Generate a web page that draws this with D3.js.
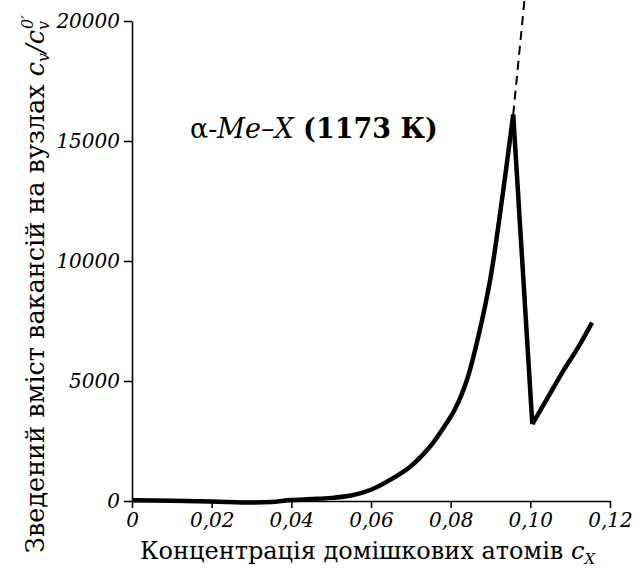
<!DOCTYPE html>
<html>
<head>
<meta charset="utf-8">
<script src="https://cdn.jsdelivr.net/npm/d3@7"></script>
<style>
  body { margin: 0; background: #fff; }
  svg { display: block; }
</style>
</head>
<body>
<div id="chart"></div>
<script>

// concentration of impurity atoms c_X
var cx = [0, 0.01, 0.02, 0.03, 0.035, 0.04, 0.045, 0.05, 0.055, 0.06, 0.065, 0.07,
          0.075, 0.078, 0.081, 0.084, 0.087, 0.09, 0.093, 0.0957,
          0.1005, 0.104, 0.108, 0.112, 0.1155];
// reduced vacancy content c_v / c_v^0
var cv = [30, 10, -20, -60, -40, 40, 80, 130, 230, 470, 900, 1450,
          2300, 3000, 3800, 5000, 6900, 9300, 12700, 16100,
          3200, 4200, 5350, 6400, 7430];
var peakIdx = 19, minIdx = 20;

// dashed extrapolation above the peak
var dashX = [0.0957, 0.0986];
var dashY = [16100, 21000];

var xTicks = [0, 0.02, 0.04, 0.06, 0.08, 0.10, 0.12];
var yTicks = [0, 5000, 10000, 15000, 20000];

var W = 644, H = 573;
var serif = "'DejaVu Serif'";

var svg = d3.select("#chart").append("svg")
    .attr("width", W)
    .attr("height", H);

var x = d3.scaleLinear().domain([0, 0.12]).range([132, 610]);
var y = d3.scaleLinear().domain([0, 20000]).range([501, 21]);

// axes
var gx = svg.append("g")
    .attr("transform", "translate(0," + y(0) + ")")
    .call(d3.axisBottom(x).tickValues(xTicks).tickSize(7).tickSizeOuter(0).tickPadding(5)
        .tickFormat(function (d) { return d === 0 ? "0" : d.toFixed(2).replace(".", ","); }));

var gy = svg.append("g")
    .attr("transform", "translate(" + x(0) + ",0)")
    .call(d3.axisLeft(y).tickValues(yTicks).tickSize(8).tickSizeOuter(0).tickPadding(4)
        .tickFormat(d3.format("d")));

[gx, gy].forEach(function (g) {
    g.attr("font-family", null).attr("font-size", null);
    g.selectAll("path, line").attr("stroke", "#000").attr("stroke-width", 1.6);
    g.selectAll("text")
        .style("font-family", serif)
        .style("font-style", "italic")
        .style("font-size", "20px")
        .attr("fill", "#000");
});

// curve, split so the peak and the minimum stay sharp
var pts = cx.map(function (d, i) { return [d, cv[i]]; });
var line = d3.line()
    .x(function (d) { return x(d[0]); })
    .y(function (d) { return y(d[1]); });

var segs = [
    {data: pts.slice(0, peakIdx + 1), curve: d3.curveCatmullRom.alpha(0.5)},
    {data: pts.slice(peakIdx, minIdx + 1), curve: d3.curveLinear},
    {data: pts.slice(minIdx), curve: d3.curveCatmullRom.alpha(0.5)}
];

svg.append("g").selectAll("path")
    .data(segs)
    .enter().append("path")
    .attr("d", function (s) { return line.curve(s.curve)(s.data); })
    .attr("fill", "none")
    .attr("stroke", "#000")
    .attr("stroke-width", 4.5)
    .attr("stroke-linejoin", "miter")
    .attr("stroke-linecap", "butt");

svg.append("path")
    .datum(dashX.map(function (d, i) { return [d, dashY[i]]; }))
    .attr("d", line.curve(d3.curveLinear))
    .attr("fill", "none")
    .attr("stroke", "#000")
    .attr("stroke-width", 2)
    .attr("stroke-dasharray", "9,6");

// text helper
function label(sel, size) {
    return sel.append("text")
        .style("font-family", serif)
        .style("font-size", size + "px")
        .attr("fill", "#000");
}

// annotation
var ann = label(svg, 27)
    .attr("x", 190)
    .attr("y", 138);
ann.append("tspan").text("α-");
ann.append("tspan").style("font-style", "italic").text("Me–X");
ann.append("tspan").style("font-weight", "bold").text(" (1173 К)");

// x label
var xl = label(svg, 24)
    .attr("x", 140)
    .attr("y", 559);
xl.append("tspan").text("Концентрація домішкових атомів ");
xl.append("tspan").style("font-style", "italic").text("c");
xl.append("tspan").style("font-style", "italic").style("font-size", "15px").attr("dy", 5).text("X");

// y label
var yl = label(svg, 25.5)
    .attr("transform", "translate(44,553) rotate(-90)");
yl.append("tspan").text("Зведений вміст вакансій на вузлах ");
yl.append("tspan").style("font-style", "italic").text("c");
yl.append("tspan").style("font-style", "italic").style("font-size", "16px").attr("dy", 5).text("v");
yl.append("tspan").attr("dy", -5).style("font-style", "italic").text("/c");
yl.append("tspan").style("font-style", "italic").style("font-size", "16px").attr("dy", 5).text("v");
yl.append("tspan").style("font-style", "italic").style("font-size", "16px").attr("dx", -8).attr("dy", -16).text("0′");

</script>
</body>
</html>
